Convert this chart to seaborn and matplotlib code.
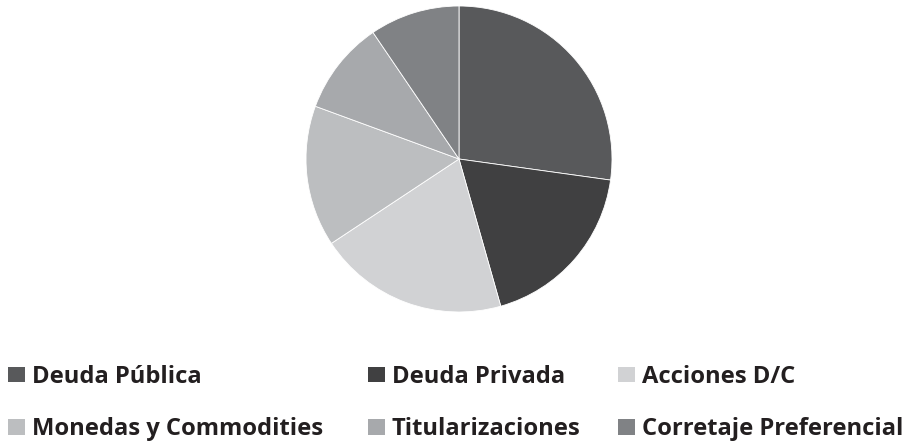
import matplotlib
matplotlib.use("Agg")
import matplotlib.pyplot as plt
import seaborn as sns

# Datos (porcentaje aproximado por segmento)
categorias = ["Deuda Pública", "Deuda Privada", "Acciones D/C",
              "Monedas y Commodities", "Titularizaciones", "Corretaje Preferencial"]
valores = [27.2, 18.4, 20.1, 14.9, 9.9, 9.5]
colores = ["#58595b", "#404041", "#d1d2d4", "#bcbec0", "#a7a9ac", "#808285"]

sns.set_theme(style="white")
plt.rcParams["font.family"] = ["Open Sans", "DejaVu Sans"]

W, H = 915, 443
fig = plt.figure(figsize=(W / 100, H / 100), dpi=100)
cx, cy, r = 459, 159, 153
ax = fig.add_axes([(cx - r) / W, (H - cy - r) / H, 2 * r / W, 2 * r / H])

wedges, _ = ax.pie(valores, colors=colores, startangle=90, counterclock=False,
                   wedgeprops=dict(edgecolor="white", linewidth=0.6))
ax.set_xlim(-1, 1)
ax.set_ylim(-1, 1)
ax.set_aspect("equal")
ax.axis("off")

# leyenda: tres columnas de dos filas
fs = 17.1
columnas = [(8, [0, 3]), (368, [1, 4]), (618, [2, 5])]
for x0, idx in columnas:
    leg = fig.legend([wedges[i] for i in idx], [categorias[i] for i in idx],
                     loc="center left", bbox_to_anchor=(x0 / W, 1 - 403 / H),
                     frameon=False, handlelength=0.72, handleheight=0.64,
                     handletextpad=0.28, labelspacing=1.2,
                     borderpad=0, borderaxespad=0,
                     prop=dict(family=["Open Sans", "DejaVu Sans"], weight="bold", size=fs))
    for h in leg.legend_handles:
        h.set_edgecolor("none")
    for t in leg.get_texts():
        t.set_color("#231f20")

fig.savefig("out.png", dpi=100, facecolor="white")
